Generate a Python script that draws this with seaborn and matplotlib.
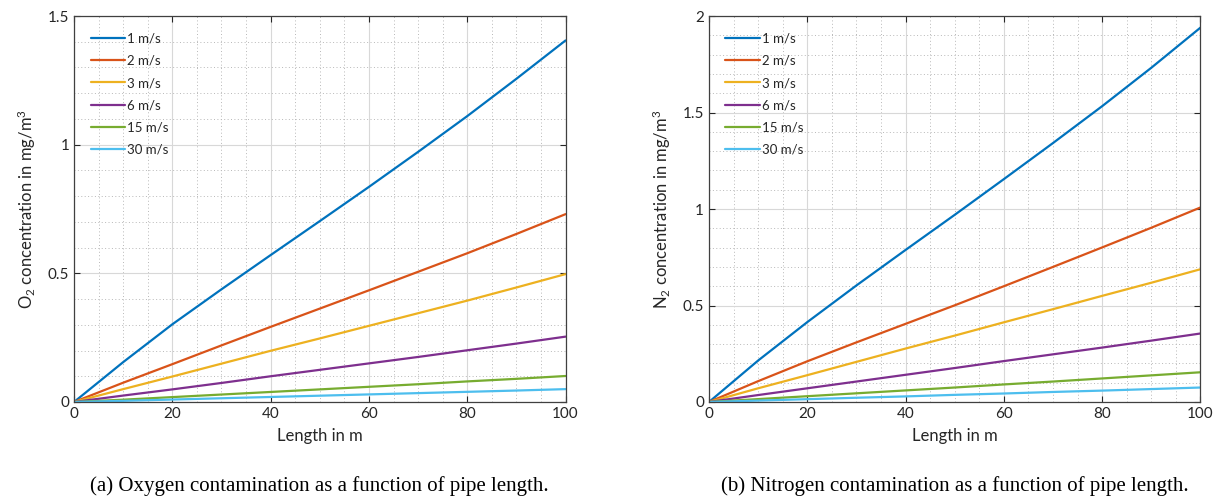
import numpy as np
import pandas as pd
import seaborn as sns
import matplotlib.pyplot as plt
from matplotlib.ticker import MultipleLocator

length = [0, 10, 20, 30, 40, 50, 60, 70, 80, 90, 100]
speeds = ['1 m/s', '2 m/s', '3 m/s', '6 m/s', '15 m/s', '30 m/s']

o2_1 = [0, 0.155, 0.302, 0.438, 0.571, 0.703, 0.836, 0.972, 1.111, 1.256, 1.405]
o2_2 = [0, 0.075, 0.147, 0.220, 0.292, 0.363, 0.434, 0.506, 0.578, 0.653, 0.730]
o2_3 = [0, 0.050, 0.099, 0.149, 0.199, 0.247, 0.296, 0.345, 0.394, 0.445, 0.497]
o2_6 = [0, 0.025, 0.049, 0.074, 0.100, 0.125, 0.150, 0.175, 0.201, 0.227, 0.254]
o2_15 = [0, 0.009, 0.019, 0.029, 0.039, 0.049, 0.059, 0.069, 0.080, 0.090, 0.101]
o2_30 = [0, 0.0045, 0.0095, 0.0145, 0.0195, 0.0245, 0.0295, 0.0345, 0.0395, 0.0445, 0.050]

n2_1 = [0, 0.215, 0.414, 0.604, 0.788, 0.970, 1.155, 1.342, 1.533, 1.732, 1.940]
n2_2 = [0, 0.108, 0.211, 0.309, 0.405, 0.501, 0.600, 0.700, 0.801, 0.903, 1.008]
n2_3 = [0, 0.071, 0.139, 0.208, 0.277, 0.344, 0.413, 0.481, 0.550, 0.618, 0.688]
n2_6 = [0, 0.036, 0.071, 0.106, 0.141, 0.176, 0.212, 0.247, 0.282, 0.318, 0.355]
n2_15 = [0, 0.015, 0.030, 0.045, 0.060, 0.075, 0.091, 0.106, 0.122, 0.138, 0.154]
n2_30 = [0, 0.0073, 0.0146, 0.022, 0.029, 0.037, 0.044, 0.052, 0.059, 0.067, 0.075]

colors = ['#0072BD', '#D95319', '#EDB120', '#7E2F8E', '#77AC30', '#4DBEEE']


def to_long(series):
    rows = []
    for sp, vals in zip(speeds, series):
        for x, y in zip(length, vals):
            rows.append({'Length': x, 'Conc': y, 'Speed': sp})
    return pd.DataFrame(rows)


df_o2 = to_long([o2_1, o2_2, o2_3, o2_6, o2_15, o2_30])
df_n2 = to_long([n2_1, n2_2, n2_3, n2_6, n2_15, n2_30])

sns.set_style('ticks')
plt.rcParams['font.family'] = ['Lato', 'DejaVu Sans']
plt.rcParams['mathtext.default'] = 'regular'

fig = plt.figure(figsize=(12.22, 4.99), dpi=100)
ax1 = fig.add_axes([0.0606, 0.1944, 0.4022, 0.7735])
ax2 = fig.add_axes([0.5802, 0.1944, 0.4022, 0.7735])

txt = '#262626'


def style_panel(ax, df, ymax, ymajor, ylabel, caption):
    sns.lineplot(data=df, x='Length', y='Conc', hue='Speed', hue_order=speeds,
                 palette=colors, linewidth=1.6, ax=ax)
    ax.set_xlim(0, 100)
    ax.set_ylim(0, ymax)
    ax.xaxis.set_major_locator(MultipleLocator(20))
    ax.xaxis.set_minor_locator(MultipleLocator(5))
    ax.yaxis.set_major_locator(MultipleLocator(ymajor))
    ax.yaxis.set_minor_locator(MultipleLocator(0.1))
    ax.yaxis.set_major_formatter(plt.FuncFormatter(lambda v, p: f'{v:g}'))
    ax.grid(which='major', color='#d8d8d8', linewidth=0.8)
    ax.grid(which='minor', color='#b8b8b8', linestyle=(0, (1, 2.5)), linewidth=0.7)
    ax.set_axisbelow(True)
    ax.tick_params(which='major', direction='in', length=4, top=True, right=True,
                   labelsize=11, colors=txt, width=0.8)
    ax.tick_params(which='minor', length=0, top=True, right=True)
    for s in ax.spines.values():
        s.set_color('#404040')
        s.set_linewidth(0.9)
    ax.set_xlabel('Length in m', fontsize=12, color=txt, labelpad=5)
    ax.set_ylabel(ylabel, fontsize=12, color=txt, labelpad=7)
    ax.legend(loc='upper left', frameon=False, fontsize=9.5, handlelength=2.6,
              labelspacing=0.78, handletextpad=0.15, borderaxespad=0.9,
              borderpad=0.35)
    pos = ax.get_position()
    fig.text(pos.x0 + pos.width / 2, 0.026, caption, ha='center', va='center',
             fontsize=15, family=['Liberation Serif', 'DejaVu Serif'], color='black')


style_panel(ax1, df_o2, 1.5, 0.5, 'O$_2$ concentration in mg/m$^3$',
            '(a) Oxygen contamination as a function of pipe length.')
style_panel(ax2, df_n2, 2.0, 0.5, 'N$_2$ concentration in mg/m$^3$',
            '(b) Nitrogen contamination as a function of pipe length.')

fig.savefig('out.png', dpi=100)
